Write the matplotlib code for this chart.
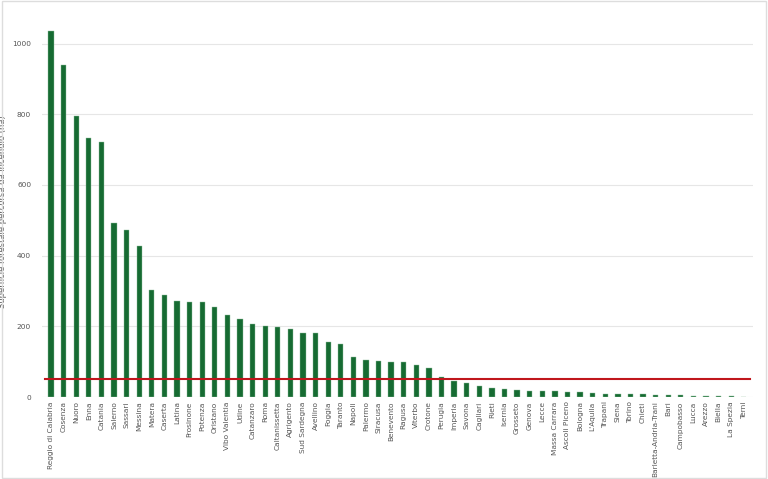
import numpy as np
import matplotlib.pyplot as plt

province = ["Reggio di Calabria", "Cosenza", "Nuoro", "Enna", "Catania", "Salerno", "Sassari",
            "Messina", "Matera", "Caserta", "Latina", "Frosinone", "Potenza", "Oristano",
            "Vibo Valentia", "Udine", "Catanzaro", "Roma", "Caltanissetta", "Agrigento",
            "Sud Sardegna", "Avellino", "Foggia", "Taranto", "Napoli", "Palermo", "Siracusa",
            "Benevento", "Ragusa", "Viterbo", "Crotone", "Perugia", "Imperia", "Savona",
            "Cagliari", "Rieti", "Isernia", "Grosseto", "Genova", "Lecce", "Massa Carrara",
            "Ascoli Piceno", "Bologna", "L'Aquila", "Trapani", "Siena", "Torino", "Chieti",
            "Barletta-Andria-Trani", "Bari", "Campobasso", "Lucca", "Arezzo", "Biella",
            "La Spezia", "Terni"]
superficie = [1035, 940, 795, 732, 722, 492, 472, 427, 303, 290, 273, 268, 268, 256, 232,
              220, 206, 201, 198, 194, 181, 180, 156, 151, 112, 104, 103, 100, 99, 92, 82,
              58, 46, 41, 30, 27, 23, 21, 18, 17, 16, 15, 14, 11, 10, 10, 10, 9, 7, 6, 6,
              4, 3, 2, 2, 1]
soglia = 50

fig = plt.figure(figsize=(7.68, 4.79), dpi=100)
fig.patches.append(plt.Rectangle((0.002, 0.002), 0.996, 0.996, transform=fig.transFigure,
                                 fill=False, edgecolor="#dddddd", lw=1))
ax = fig.add_axes([0.055, 0.171, 0.925, 0.775])

x = np.arange(len(province))
ax.bar(x, superficie, width=0.42, color="#166b32", edgecolor="#8fbf9c", linewidth=0.3, zorder=2)
ax.plot([-0.5, len(province) - 0.5], [soglia, soglia], color="#c0161c", lw=1.5, zorder=3)

ax.set_xlim(-0.7, len(province) - 0.3)
ax.set_ylim(0, 1050)
ax.set_yticks([0, 200, 400, 600, 800, 1000])
ax.set_xticks(x)
ax.set_xticklabels(province, rotation=90, fontsize=5.3, color="#555555")
ax.tick_params(axis="y", labelsize=5.3, colors="#555555", length=0, pad=8)
ax.tick_params(axis="x", length=0, pad=3)
ax.grid(axis="y", color="#e6e6e6", lw=0.8, zorder=0)
for s in ax.spines.values():
    s.set_visible(False)
ax.set_ylabel("Superficie forestale percorsa da incendio (ha)", fontsize=6, color="#555555",
              labelpad=4)

fig.savefig("out.png", dpi=100)
